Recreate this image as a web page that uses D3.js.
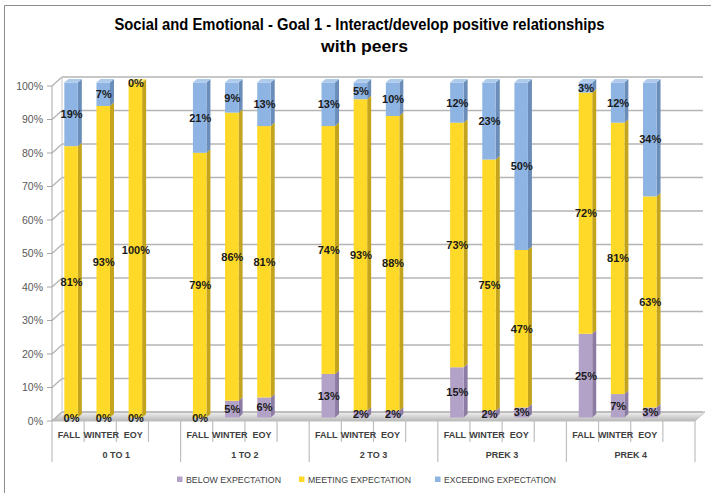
<!DOCTYPE html>
<html><head><meta charset="utf-8">
<script src="https://cdn.jsdelivr.net/npm/d3@7"></script>
<style>html,body{margin:0;padding:0;background:#fff;}svg{display:block;}</style>
</head><body>
<svg id="chart" width="718" height="493"></svg>
<script>
const groups = ["0 TO 1", "1 TO 2", "2 TO 3", "PREK 3", "PREK 4"];
const periods = ["FALL", "WINTER", "EOY"];
const below     = [0, 0, 0,   0, 5, 6,   13, 2, 2,   15, 2, 3,   25, 7, 3];
const meeting   = [81, 93, 100, 79, 86, 81, 74, 93, 88, 73, 75, 47, 72, 81, 63];
const exceeding = [19, 7, 0,  21, 9, 13,  13, 5, 10,  12, 23, 50,  3, 12, 34];
const seriesNames = ["BELOW EXPECTATION", "MEETING EXPECTATION", "EXCEEDING EXPECTATION"];
const yTicks = [0, 10, 20, 30, 40, 50, 60, 70, 80, 90, 100];

const colors = {
  front: ["#B3A2C7", "#FFD927", "#8EB4E3"],
  side:  ["#8C7CA3", "#C4A41C", "#6A8DBA"],
  top:   ["#CBBFDA", "#FFE670", "#AECAEC"]
};

const rows = [];
groups.forEach((g, gi) => periods.forEach((p, pi) => {
  const i = gi * 3 + pi;
  rows.push({ slot: gi * 4 + pi, group: g, period: p, below: below[i], meeting: meeting[i], exceeding: exceeding[i] });
}));
const keys = ["below", "meeting", "exceeding"];
const stacked = d3.stack().keys(keys)(rows);

const svg = d3.select("#chart");
const font = "'Liberation Sans', Arial, sans-serif";

// border
svg.append("path").attr("d", "M4.5,493 L4.5,5.5 L711,5.5").attr("fill", "none").attr("stroke", "#8c8c8c").attr("stroke-width", 1);

// title
svg.append("text").attr("x", 359.5).attr("y", 30).attr("text-anchor", "middle")
  .attr("font-family", font).attr("font-weight", "bold").attr("font-size", 16).attr("fill", "#000")
  .attr("textLength", 490).attr("lengthAdjust", "spacingAndGlyphs")
  .text("Social and Emotional - Goal 1 - Interact/develop positive relationships");
svg.append("text").attr("x", 364.5).attr("y", 52).attr("text-anchor", "middle")
  .attr("font-family", font).attr("font-weight", "bold").attr("font-size", 16).attr("fill", "#000")
  .attr("textLength", 87).attr("lengthAdjust", "spacingAndGlyphs")
  .text("with peers");

// scales
const x = d3.scaleBand().domain(d3.range(20)).range([52, 695]).padding(0);
const y = d3.scaleLinear().domain([0, 100]).range([421, 86]);
const DX = 10, DY = -9;           // wall depth
const FX = 3, FY = -3.5;          // bar front face offset
const BW = 13.5, BDX = 4, BDY = -3.5; // bar width & bar depth

// floor
const defs = svg.append("defs");
const fg = defs.append("linearGradient").attr("id", "floorGrad").attr("x1", 0).attr("y1", 0).attr("x2", 0).attr("y2", 1);
fg.append("stop").attr("offset", "0%").attr("stop-color", "#f2f2f2");
fg.append("stop").attr("offset", "100%").attr("stop-color", "#b8b8b8");
svg.append("path")
  .attr("d", `M${x.range()[0]},${y(0)} L${x.range()[1]},${y(0)} L${x.range()[1] + DX},${y(0) + DY} L${x.range()[0] + DX},${y(0) + DY} Z`)
  .attr("fill", "url(#floorGrad)").attr("stroke", "#bfbfbf").attr("stroke-width", 1);

// gridlines (back wall + side wall)
const grid = svg.append("g").attr("stroke", "#b5b5b5").attr("stroke-width", 1.4).attr("fill", "none");
yTicks.forEach(t => {
  grid.append("line").attr("x1", x.range()[0] + DX).attr("x2", 703).attr("y1", y(t) + DY).attr("y2", y(t) + DY);
  grid.append("line").attr("x1", x.range()[0]).attr("x2", x.range()[0] + DX).attr("y1", y(t)).attr("y2", y(t) + DY);
});
// wall edges
svg.append("line").attr("x1", x.range()[0] + DX).attr("x2", x.range()[0] + DX).attr("y1", y(100) + DY).attr("y2", y(0) + DY)
  .attr("stroke", "#c8c8c8").attr("stroke-width", 1);
svg.append("line").attr("x1", x.range()[0]).attr("x2", x.range()[0]).attr("y1", y(100)).attr("y2", y(0))
  .attr("stroke", "#a6a6a6").attr("stroke-width", 1);

// y ticks & labels
yTicks.forEach(t => {
  svg.append("line").attr("x1", x.range()[0] - 5).attr("x2", x.range()[0]).attr("y1", y(t)).attr("y2", y(t))
    .attr("stroke", "#a6a6a6");
  svg.append("text").attr("x", 43).attr("y", y(t) + 3.8).attr("text-anchor", "end")
    .attr("font-family", font).attr("font-size", 10.5).attr("fill", "#595959").text(t + "%");
});

// category axis separators
for (let i = 0; i <= 20; i++) {
  const xx = x.range()[0] + i * x.bandwidth();
  svg.append("line").attr("x1", xx).attr("x2", xx).attr("y1", y(0)).attr("y2", i % 4 === 0 ? 462 : 442)
    .attr("stroke", "#bfbfbf").attr("stroke-width", 1.2);
}
rows.forEach(r => {
  svg.append("text").attr("x", x(r.slot) + x.bandwidth() / 2 + 1).attr("y", 437.5).attr("text-anchor", "middle")
    .attr("font-family", font).attr("font-weight", "bold").attr("font-size", 9).attr("fill", "#404040").text(r.period);
});
groups.forEach((g, gi) => {
  svg.append("text").attr("x", x(gi * 4) + 2 * x.bandwidth()).attr("y", 457.5).attr("text-anchor", "middle")
    .attr("font-family", font).attr("font-weight", "bold").attr("font-size", 9).attr("fill", "#404040").text(g);
});

// bars
const barsG = svg.append("g");
rows.forEach((r, ri) => {
  const cx = x(r.slot) + x.bandwidth() / 2 + FX;
  const x0 = cx - BW / 2;
  let topIdx = -1;
  stacked.forEach((s, si) => { if (s[ri][1] > s[ri][0]) topIdx = si; });
  stacked.forEach((s, si) => {
    const v0 = s[ri][0], v1 = s[ri][1];
    if (v1 <= v0) return;
    const yb = y(v0) + FY, yt = y(v1) + FY;
    barsG.append("path")
      .attr("d", `M${x0 + BW},${yb} L${x0 + BW + BDX},${yb + BDY} L${x0 + BW + BDX},${yt + BDY} L${x0 + BW},${yt} Z`)
      .attr("fill", colors.side[si]);
    barsG.append("rect").attr("x", x0).attr("y", yt).attr("width", BW).attr("height", yb - yt)
      .attr("fill", colors.front[si]);
    if (si === topIdx) {
      barsG.append("path")
        .attr("d", `M${x0},${yt} L${x0 + BDX},${yt + BDY} L${x0 + BW + BDX},${yt + BDY} L${x0 + BW},${yt} Z`)
        .attr("fill", colors.top[si]);
    }
  });
});

// data labels
const labG = svg.append("g");
rows.forEach((r, ri) => {
  const cx = x(r.slot) + x.bandwidth() / 2 + FX + 0.5;
  stacked.forEach((s, si) => {
    const v0 = s[ri][0], v1 = s[ri][1];
    const yy = y((v0 + v1) / 2) + FY;
    labG.append("text").attr("x", cx).attr("y", yy + 4).attr("text-anchor", "middle")
      .attr("font-family", font).attr("font-weight", "bold").attr("font-size", 11).attr("fill", "#1a1a1a")
      .text((v1 - v0) + "%");
  });
});

// legend
const legX = [177, 299, 435], legW = [95, 103, 112];
seriesNames.forEach((n, i) => {
  svg.append("rect").attr("x", legX[i]).attr("y", 476.5).attr("width", 5.5).attr("height", 5.5).attr("fill", colors.front[i]);
  svg.append("text").attr("x", legX[i] + 9).attr("y", 482.5)
    .attr("font-family", font).attr("font-size", 9).attr("fill", "#404040")
    .attr("textLength", legW[i]).attr("lengthAdjust", "spacingAndGlyphs").text(n);
});
</script>
</body></html>
